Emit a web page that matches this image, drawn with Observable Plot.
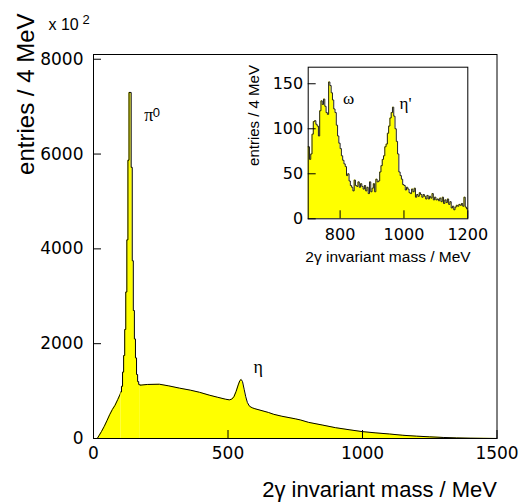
<!DOCTYPE html>
<html><head><meta charset="utf-8">
<script src="https://cdn.jsdelivr.net/npm/d3@7"></script>
<script src="https://cdn.jsdelivr.net/npm/@observablehq/plot@0.6"></script>
<style>
html,body{margin:0;padding:0;background:#fff;}
#wrap{position:relative;width:524px;height:504px;}
#wrap svg{position:absolute;}
</style></head><body><div id="wrap"></div>
<script>
// ---- main histogram (2γ invariant mass, entries / 4 MeV, ×10²) ----
const mainMass = [0,14,20,30,40,50,60,70,80,90,98,102,106,110,114,118,122,126,130,134,138,142,146,150,154,158,162,166,170,174,200,245,280,320,360,394,430,460,490,505,514,522,530,538,544,549,554,560,566,572,580,590,600,650,670,700,750,770,800,850,900,950,1000,1050,1100,1150,1200,1250,1300,1350,1400,1450,1500];
const mainCount = [0,0,55,150,255,375,500,610,700,820,920,980,1100,1400,1750,2300,3090,4190,5870,7300,7300,5720,3750,2700,2100,1700,1350,1200,1140,1125,1140,1145,1110,1062,1020,975,915,872,830,815,830,880,990,1130,1220,1245,1200,1040,880,760,680,648,628,550,510,470,415,390,340,285,228,185,145,118,95,68,50,35,22,13,7,3,1];
// the π0 peak is drawn bin by bin (4 MeV bin centres) between these masses
const peakFrom = 102, peakTo = 174;
const mainXTicks = [0,500,1000,1500];
const mainYTicks = [0,2000,4000,6000,8000];
const mainLabelText = ["π","η"];
const mainLabelSup = ["0",""];
const mainLabelMass = [189,595];
const mainLabelCount = [6697,1392];

// ---- inset histogram (700–1200 MeV, 4 MeV bins) ----
const insetStart = 700, insetBin = 4;
const insetCounts = [
  80,66,72,94,108,109,105,103,92,120,
  131,127,133,125,118,116,152,148,140,132,
  122,118,104,92,84,78,70,65,61,58,
  48,50,42,37,35,31,43,37,36,41,
  35,39,36,33,37,31,35,28,41,30,
  34,39,30,44,41,42,52,59,66,70,
  80,83,95,103,112,118,124,114,100,86,
  72,52,48,44,38,37,32,35,33,29,
  28,33,30,34,24,27,25,29,27,24,
  27,25,22,26,22,25,23,28,21,24,
  21,22,20,23,19,24,17,21,18,22,
  16,19,12,14,10,13,15,14,16,15,
  17,14,24,13,11];
const insetXTicks = [800,1000,1200];
const insetYTicks = [0,50,100,150];
const insetLabelText = ["ω","η'"];
const insetLabelMass = [809,986];
const insetLabelCount = [128,122];

const mainData = mainMass.map((m,i)=>({m, c: mainCount[i]}));
const insetData = insetCounts.map((c,i)=>({m: insetStart + insetBin*i, c}));
insetData.push({m: insetStart + insetBin*insetCounts.length, c: insetCounts[insetCounts.length-1]});
const mainLabels = mainLabelText.map((t,i)=>({t, s: mainLabelSup[i], m: mainLabelMass[i], c: mainLabelCount[i]}));
const insetLabels = insetLabelText.map((t,i)=>({t, m: insetLabelMass[i], c: insetLabelCount[i]}));

const SANS = "Liberation Sans, Arial, sans-serif";
const TICKF = "DejaVu Sans, sans-serif";
const SERIF = "Liberation Serif, Times New Roman, serif";
const YEL = "#ffff00";

// main plot geometry
const W = 524, H = 504, mL = 93, mR = 27.5, mT = 54, mB = 66;
const fW = W - mL - mR, fH = H - mT - mB;

const segA = d => d.m <= peakFrom;
const segB = d => d.m >= peakFrom && d.m <= peakTo;
const segC = d => d.m >= peakTo;
function histMarks(filter, curve) {
  return [
    Plot.areaY(mainData, {x: "m", y: "c", fill: YEL, filter, curve}),
    Plot.lineY(mainData, {x: "m", y: "c", stroke: "black", strokeWidth: 1, filter, curve})
  ];
}

const main = Plot.plot({
  width: W, height: H,
  marginLeft: mL, marginRight: mR, marginTop: mT, marginBottom: mB,
  x: {domain: [0,1500]},
  y: {domain: [0,8100]},
  style: {background: "transparent", color: "black", overflow: "visible"},
  marks: [
    ...histMarks(segA, "linear"),
    ...histMarks(segB, "step"),
    ...histMarks(segC, "linear"),
    Plot.frame({stroke: "black", strokeWidth: 1}),
    Plot.tickX(mainXTicks, {x: d=>d, insetTop: fH - 8, stroke: "black"}),
    Plot.tickY(mainYTicks, {y: d=>d, insetRight: fW - 8, stroke: "black"}),
    Plot.axisX({ticks: mainXTicks, tickSize: 0, tickPadding: 8, tickFormat: d=>String(d), fontSize: 17, fontFamily: TICKF, label: null}),
    Plot.axisY({ticks: mainYTicks, tickSize: 0, tickPadding: 10, tickFormat: d=>String(d), fontSize: 17, fontFamily: TICKF, label: null}),
    Plot.text(["entries / 4 MeV"], {frameAnchor: "top-left", rotate: -90, textAnchor: "end", lineAnchor: "bottom", dx: 33 - mL, dy: 13 - mT, fontSize: 24, fontFamily: SANS}),
    Plot.text(["2γ invariant mass / MeV"], {frameAnchor: "bottom-right", textAnchor: "end", lineAnchor: "bottom", dx: 0, dy: 58, fontSize: 22, fontFamily: SANS}),
    Plot.text(["x 10"], {frameAnchor: "top-left", textAnchor: "start", lineAnchor: "bottom", dx: 48 - mL, dy: 29.5 - mT, fontSize: 16, fontFamily: SANS}),
    Plot.text(["2"], {frameAnchor: "top-left", textAnchor: "start", lineAnchor: "bottom", dx: 82 - mL, dy: 23.5 - mT, fontSize: 13, fontFamily: SANS}),
    Plot.text(mainLabels, {x: "m", y: "c", text: "t", textAnchor: "start", lineAnchor: "bottom", fontSize: 18, fontFamily: SERIF}),
    Plot.text(mainLabels, {x: "m", y: "c", text: "s", textAnchor: "start", lineAnchor: "bottom", dx: 8.5, dy: -4, fontSize: 13, fontFamily: SANS})
  ]
});
main.style.left = "0px"; main.style.top = "0px";

// inset geometry (absolute placement)
const IX = 240, IY = 50, IW = 240, IH = 220;
const iL = 67.7, iR = 12.7, iT = 16.7, iB = 51.7;
const ifW = IW - iL - iR, ifH = IH - iT - iB;

const inset = Plot.plot({
  width: IW, height: IH,
  marginLeft: iL, marginRight: iR, marginTop: iT, marginBottom: iB,
  x: {domain: [700,1200]},
  y: {domain: [0,168.4]},
  style: {background: "transparent", color: "black", overflow: "visible"},
  marks: [
    Plot.areaY(insetData, {x: "m", y: "c", fill: YEL, curve: "step-after"}),
    Plot.lineY(insetData, {x: "m", y: "c", stroke: "#222", strokeWidth: 1, curve: "step-after"}),
    Plot.frame({stroke: "black", strokeWidth: 1}),
    Plot.tickX(insetXTicks, {x: d=>d, insetTop: ifH - 8, stroke: "black"}),
    Plot.tickY(insetYTicks, {y: d=>d, insetRight: ifW - 8, stroke: "black"}),
    Plot.axisX({ticks: insetXTicks, tickSize: 0, tickPadding: 10, tickFormat: d=>String(d), fontSize: 16, fontFamily: TICKF, label: null}),
    Plot.axisY({ticks: insetYTicks, tickSize: 0, tickPadding: 5, tickFormat: d=>String(d), fontSize: 16, fontFamily: TICKF, label: null}),
    Plot.text(["entries / 4 MeV"], {frameAnchor: "left", rotate: -90, textAnchor: "middle", lineAnchor: "bottom", dx: 258 - (IX + iL), dy: 115 - (IY + iT + ifH/2), fontSize: 15, fontFamily: SANS}),
    Plot.text(["2γ invariant mass / MeV"], {frameAnchor: "bottom", textAnchor: "middle", lineAnchor: "bottom", dy: 261.7 - (IY + IH - iB), fontSize: 15.5, fontFamily: SANS}),
    Plot.text(insetLabels, {x: "m", y: "c", text: "t", textAnchor: "start", lineAnchor: "bottom", fontSize: 17, fontFamily: SERIF})
  ]
});
inset.style.left = IX + "px"; inset.style.top = IY + "px";

const wrap = document.getElementById("wrap");
wrap.appendChild(main);
wrap.appendChild(inset);
</script>
</body></html>
